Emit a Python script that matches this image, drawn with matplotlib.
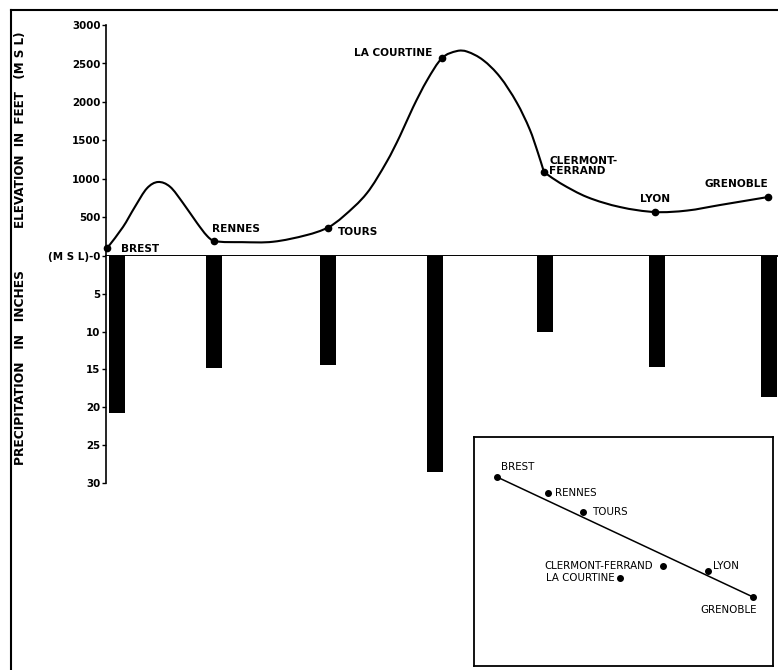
import numpy as np
import matplotlib
matplotlib.use("Agg")
import matplotlib.pyplot as plt
from matplotlib.path import Path
from matplotlib.patches import PathPatch
from matplotlib.lines import Line2D

# ---------------- data ----------------
stations = ["BREST", "RENNES", "TOURS", "LA COURTINE", "CLERMONT-\nFERRAND", "LYON", "GRENOBLE"]
station_pos = [0, 107, 221, 335, 437, 548, 661]          # position along the route
station_elev = [100, 195, 370, 2570, 1090, 571, 766]     # feet (M S L)
precip = [20.7, 14.8, 14.4, 28.5, 10.1, 14.7, 18.6]      # inches

# intermediate terrain points of the elevation profile
terrain_pos = [16, 28, 40, 51, 63, 76, 90, 100,
               135, 166, 200,
               236, 260, 280, 293, 306, 320,
               350, 360, 376, 393, 410, 423, 431,
               453, 480, 513,
               580, 613]
terrain_elev = [377, 640, 880, 961, 900, 688, 429, 262,
                180, 185, 273,
                510, 818, 1230, 1560, 1930, 2280,
                2662, 2655, 2545, 2325, 1987, 1636, 1338,
                948, 766, 636,
                590, 662]
corner_pos = [437]   # sharp bend in the profile (Clermont-Ferrand)

elev_ticks = [0, 500, 1000, 1500, 2000, 2500, 3000]
elev_ticklabels = ["(M S L)-0", "500", "1000", "1500", "2000", "2500", "3000"]
precip_ticks = [5, 10, 15, 20, 25, 30]

# inset map (relative map coordinates)
map_names = ["BREST", "RENNES", "TOURS", "LA COURTINE", "CLERMONT-FERRAND", "LYON", "GRENOBLE"]
map_x = [23, 74, 109, 146, 189, 234, 279]
map_y = [189, 173, 154, 88, 100, 95, 69]

# ---------------- figure ----------------
W, H = 778, 670
fig = plt.figure(figsize=(W / 100, H / 100), dpi=100)
fig.patch.set_facecolor("white")

def frac(x0, y0, x1, y1):
    return [x0 / W, 1 - y1 / H, (x1 - x0) / W, (y1 - y0) / H]

XL = (-1, 670)
ax_top = fig.add_axes(frac(106, 25, 777, 256))
ax_bot = fig.add_axes(frac(106, 256, 777, 483))

# outer frame (left & top)
fig.add_artist(Line2D([11 / W, 11 / W], [1 - 10 / H, 0], transform=fig.transFigure, color="black", lw=1.5))
fig.add_artist(Line2D([11 / W, 1], [1 - 10 / H, 1 - 10 / H], transform=fig.transFigure, color="black", lw=1.5))

# --- elevation profile: smooth Hermite curve drawn as Bezier path ---
pts = sorted(zip(list(station_pos) + terrain_pos, list(station_elev) + terrain_elev))
X = np.array([p[0] for p in pts], dtype=float)
Y = np.array([p[1] for p in pts], dtype=float)
n = len(X)
sec = np.diff(Y) / np.diff(X)
m_in = np.zeros(n)
m_out = np.zeros(n)
for i in range(n):
    if i == 0:
        m_in[i] = m_out[i] = sec[0]
    elif i == n - 1:
        m_in[i] = m_out[i] = sec[-1]
    elif X[i] in corner_pos:
        m_in[i] = sec[i - 1]
        m_out[i] = sec[i]
    else:
        m = (Y[i + 1] - Y[i - 1]) / (X[i + 1] - X[i - 1])
        m_in[i] = m_out[i] = m
verts = [(X[0], Y[0])]
codes = [Path.MOVETO]
for i in range(n - 1):
    dx = X[i + 1] - X[i]
    verts += [(X[i] + dx / 3, Y[i] + m_out[i] * dx / 3),
              (X[i + 1] - dx / 3, Y[i + 1] - m_in[i + 1] * dx / 3),
              (X[i + 1], Y[i + 1])]
    codes += [Path.CURVE4] * 3
ax_top.add_patch(PathPatch(Path(verts, codes), fill=False, lw=1.5, ec="black", capstyle="round"))
ax_top.plot(station_pos, station_elev, "o", color="black", ms=4.5, clip_on=False, zorder=5)

ax_top.set_xlim(*XL)
ax_top.set_ylim(0, 3000)
for s in ["top", "right"]:
    ax_top.spines[s].set_visible(False)
ax_top.spines["left"].set_linewidth(1.2)
ax_top.spines["bottom"].set_linewidth(1.4)
ax_top.set_xticks([])
ax_top.set_yticks(elev_ticks)
ax_top.set_yticklabels(elev_ticklabels)
ax_top.tick_params(axis="y", length=3, width=1, pad=1, labelsize=7.4)
for t in ax_top.get_yticklabels():
    t.set_fontweight("bold")
ax_top.set_ylabel("ELEVATION  IN  FEET   (M S L)", fontsize=8.6, fontweight="bold")
ax_top.yaxis.set_label_coords(-0.118, 0.545)

# station labels (offsets in pixels)
lab_style = dict(fontsize=7.6, fontweight="bold")
offsets = [(14, -1, "left"), (-2, 12, "left"), (10, -4, "left"), (-10, 5, "right"),
           (5, 6, "left"), (0, 13, "center"), (0, 13, "right")]
for name, x, y, (dx, dy, ha) in zip(stations, station_pos, station_elev, offsets):
    ax_top.annotate(name, (x, y), xytext=(dx * 0.72, dy * 0.72), textcoords="offset points",
                    ha=ha, va="center", linespacing=1.05, **lab_style)

# --- precipitation bars ---
bar_shift = [10, 0, 0, -7, 1, 2, 1]
bar_x = [p + s for p, s in zip(station_pos, bar_shift)]
ax_bot.bar(bar_x, precip, width=16, color="black", align="center")
ax_bot.set_xlim(*XL)
ax_bot.set_ylim(30, 0)
for s in ["top", "right", "bottom"]:
    ax_bot.spines[s].set_visible(False)
ax_bot.spines["left"].set_linewidth(1.2)
ax_bot.set_xticks([])
ax_bot.set_yticks(precip_ticks)
ax_bot.tick_params(axis="y", length=3, width=1, pad=1, labelsize=7.4)
for t in ax_bot.get_yticklabels():
    t.set_fontweight("bold")
ax_bot.set_ylabel("PRECIPITATION   IN   INCHES", fontsize=8.8, fontweight="bold")
ax_bot.yaxis.set_label_coords(-0.118, 0.507)

# --- inset map ---
ax_in = fig.add_axes(frac(474, 437, 773, 666))
ax_in.set_xlim(0, 299)
ax_in.set_ylim(0, 229)
ax_in.set_xticks([])
ax_in.set_yticks([])
for s in ax_in.spines.values():
    s.set_linewidth(1.3)
ax_in.plot([map_x[0], map_x[-1]], [map_y[0], map_y[-1]], color="black", lw=1.1)
ax_in.plot(map_x, map_y, "o", color="black", ms=4)
in_off = [(4, 10, "left"), (7, 0, "left"), (9, 0, "left"), (-5, 0, "right"),
          (-10, 0, "right"), (5, 5, "left"), (4, -13, "right")]
for name, x, y, (dx, dy, ha) in zip(map_names, map_x, map_y, in_off):
    ax_in.annotate(name, (x, y), xytext=(dx * 0.72, dy * 0.72), textcoords="offset points",
                   ha=ha, va="center", fontsize=7.4)

fig.savefig("out.png", dpi=100, facecolor="white")
